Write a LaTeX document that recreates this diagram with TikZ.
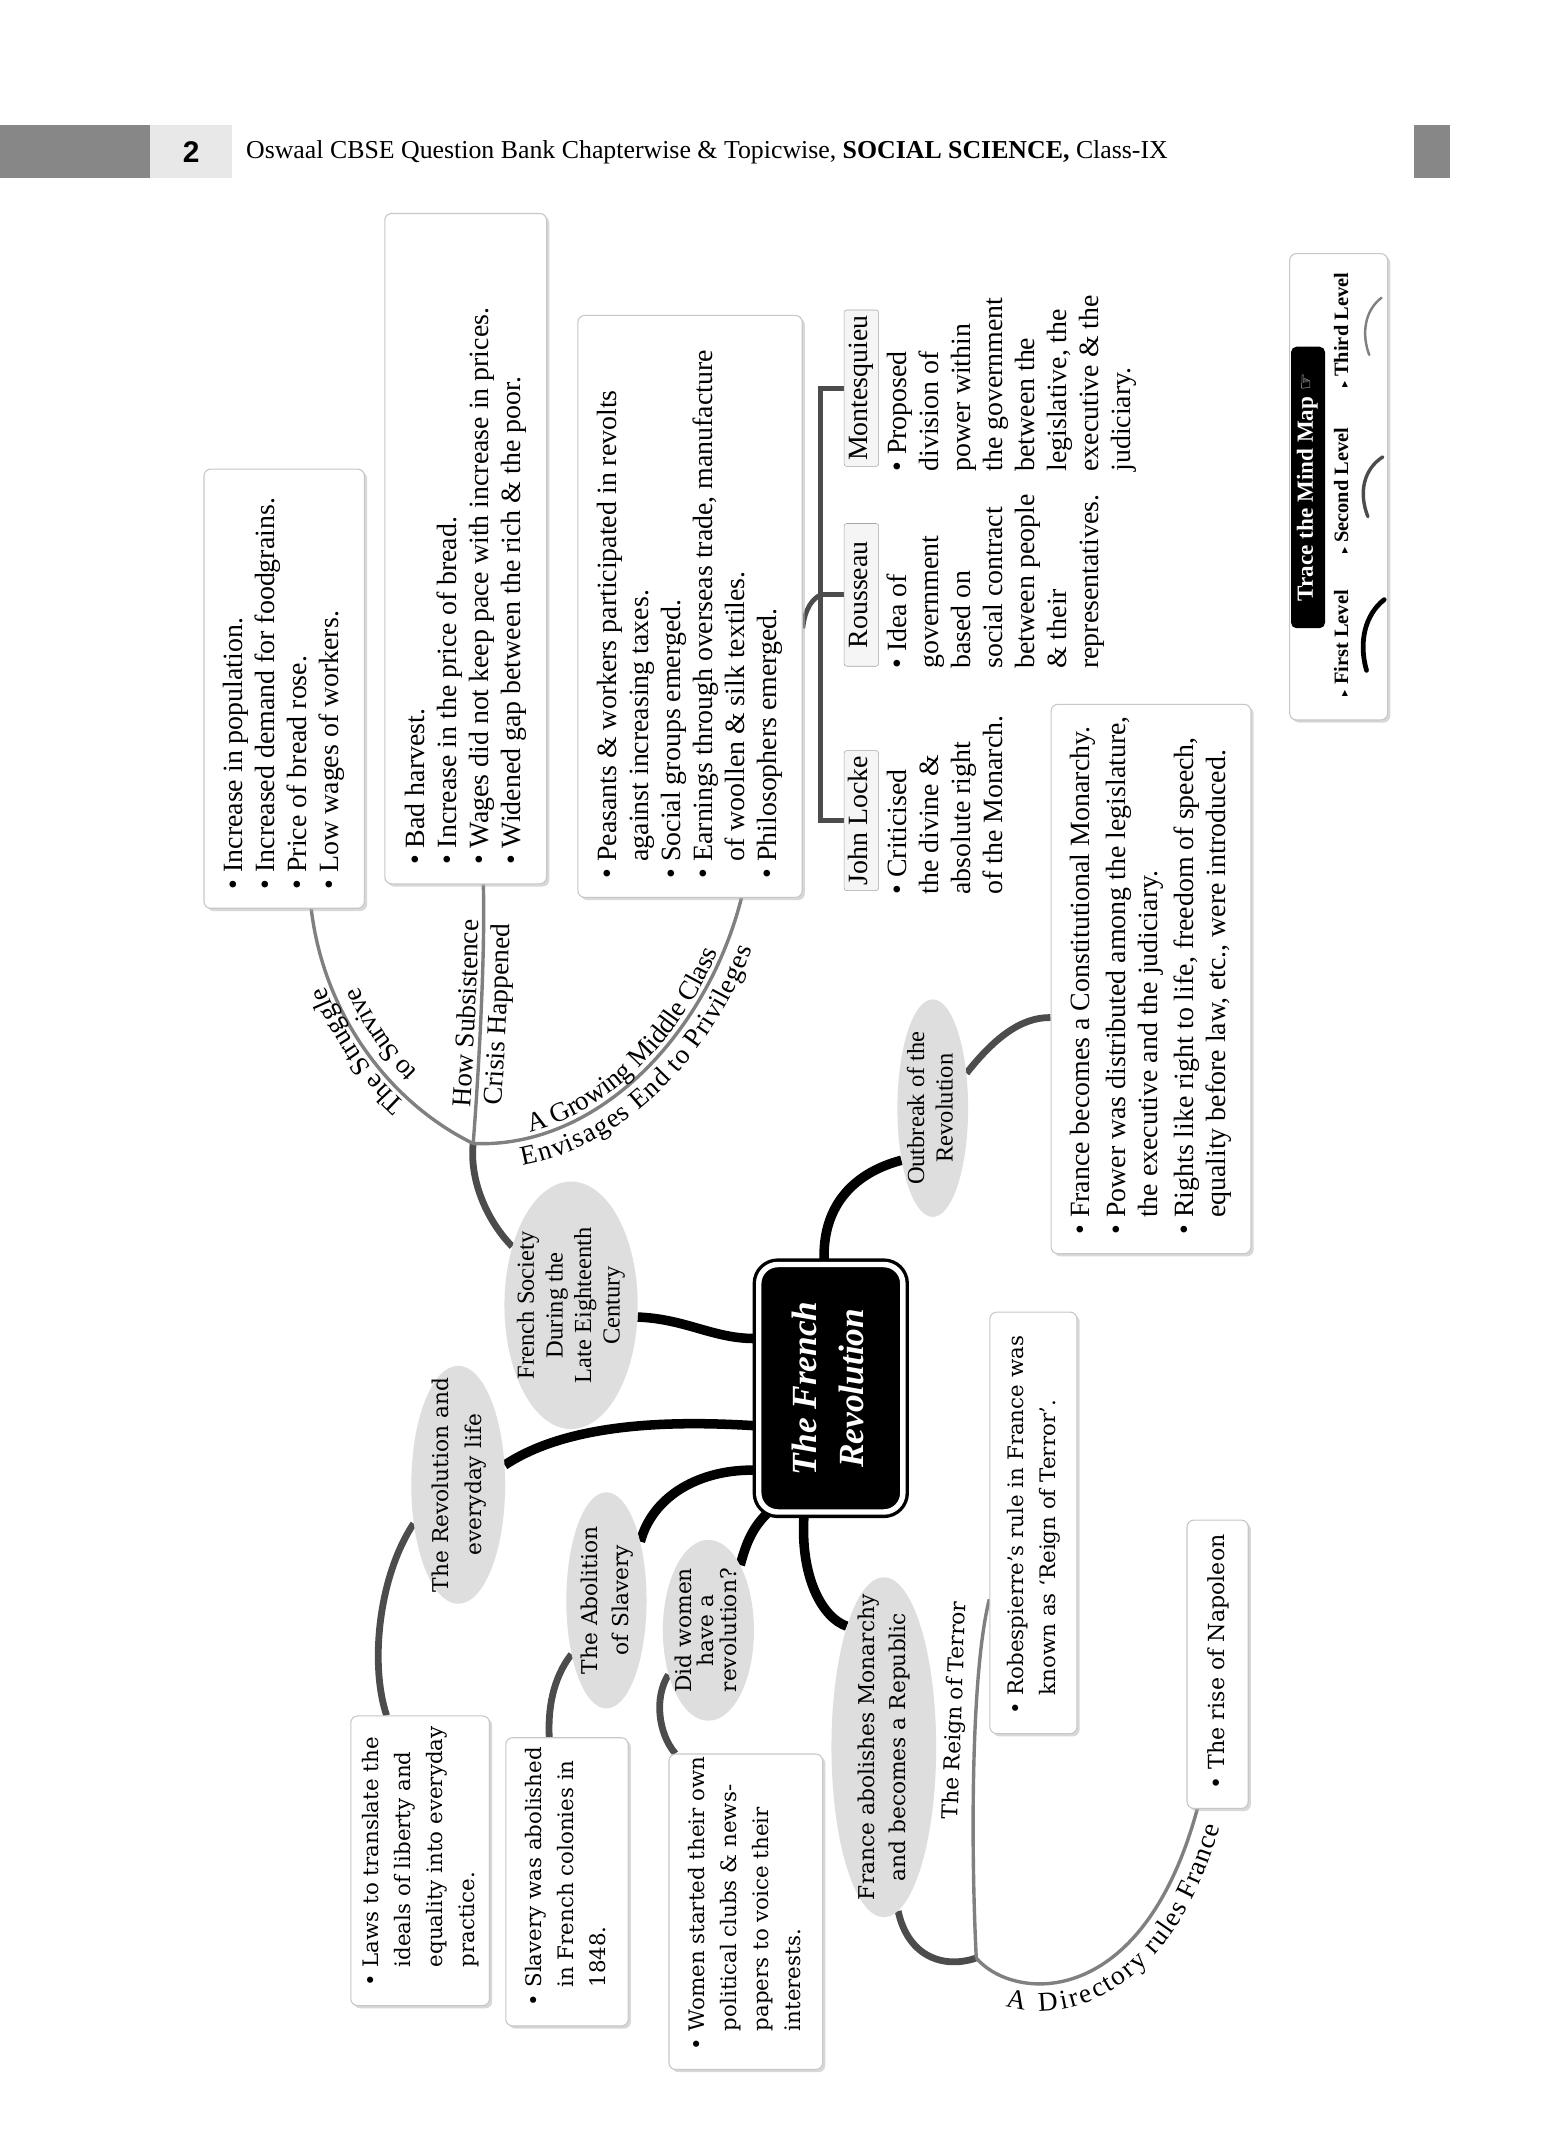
\documentclass[tikz,border=0pt]{standalone}
\usepackage{fontspec}
\setmainfont{Liberation Serif}
\setsansfont{Liberation Sans}
\newfontfamily\wideserif[Ligatures=TeX]{DejaVu Serif}
\newfontfamily\symbfont{DejaVu Sans}
\usetikzlibrary{shapes.geometric,shadows,decorations.text,backgrounds}

\newcommand{\bodyfont}{\fontsize{20.5}{23.5}\selectfont}
\newcommand{\widebody}{\wideserif\fontsize{15.7}{23.5}\selectfont}
\newcommand{\lblfont}{\fontsize{20}{24}\selectfont}
\newcommand{\sidetext}[2]{\rotatebox{90}{\makebox[#1][l]{\hspace{14pt}\begin{tabular}{@{}l@{\ }l@{}}#2\end{tabular}}}}
\newcommand{\sidecol}[1]{\rotatebox{90}{\begin{tabular}{@{}l@{}}#1\end{tabular}}}
\newcommand{\sidemid}[1]{\rotatebox{90}{\begin{tabular}{@{}c@{}}#1\end{tabular}}}
\newcommand{\tri}{{\symbfont\fontsize{9}{9}\selectfont ▸}}

\begin{document}
\begin{tikzpicture}[x=1pt,y=-1pt,line cap=round,line join=round,
  detail/.style={draw=black!22, fill=white, rounded corners=5pt, line width=0.8pt, inner sep=0pt,
    font=\bodyfont, drop shadow={shadow xshift=2pt,shadow yshift=-2pt,fill=black!30}},
  bubble/.style={ellipse, fill=black!13, inner sep=0pt},
  namebox/.style={draw=black!35, fill=black!4, rounded corners=2pt, inner sep=1pt, minimum width=23, font=\bodyfont},
  lvlone/.style={line width=7pt, black},
  lvltwo/.style={line width=5pt, black!70},
  lvlthree/.style={line width=2.5pt, black!50}]
  \useasboundingbox (0,0) rectangle (1144,1568);

  % header
  \node[fill=black!47, minimum width=110, minimum height=39, inner sep=0, anchor=north west] (hdrbar) at (0,92) {};
  \node[fill=black!9, minimum width=60, minimum height=39, inner sep=0, anchor=west,
        font=\sffamily\bfseries\fontsize{22}{22}\selectfont] (pagenum) at (hdrbar.east) {2};
  \node[anchor=west, inner sep=0, font=\fontsize{19}{22}\selectfont] (hdrtext) at ([xshift=10]pagenum.east)
    {Oswaal CBSE Question Bank Chapterwise \& Topicwise, \textbf{SOCIAL SCIENCE,} Class-IX};
  \node[fill=black!47, minimum width=26, minimum height=39, inner sep=0, anchor=north west] (hdrend) at (1040,92) {};

  % centre
  \node[fill=black, draw=black, double=white, double distance=4pt, line width=2.5pt, rounded corners=14pt,
        minimum width=106, minimum height=182, inner sep=0, text=white,
        font=\fontsize{26}{34}\selectfont\bfseries\itshape] (rev) at (611,1021) {\sidemid{The French\\Revolution}};

  % first level topics
  \node[bubble, minimum width=98, minimum height=182,
        label={[font=\fontsize{18}{21}\selectfont]center:\sidemid{French Society\\During the\\Late Eighteenth\\Century}}] (fs) at (420,960) {};
  \node[bubble, minimum width=52, minimum height=160,
        label={[font=\fontsize{18}{21}\selectfont]center:\sidemid{Outbreak of the\\Revolution}}] (ob) at (686,815) {};
  \node[bubble, minimum width=69, minimum height=175,
        label={[font=\wideserif\fontsize{16}{24}\selectfont]center:\sidemid{The Revolution and\\everyday life}}] (ev) at (337,1092) {};
  \node[bubble, minimum width=59, minimum height=159,
        label={[font=\wideserif\fontsize{16}{23}\selectfont]center:\sidemid{The Abolition\\of Slavery}}] (ab) at (446,1177) {};
  \node[bubble, minimum width=67, minimum height=133,
        label={[font=\wideserif\fontsize{16}{14}\selectfont]center:\sidemid{Did women\\have a\\revolution?}}] (wm) at (521,1199) {};
  \node[bubble, minimum width=77, minimum height=250,
        label={[font=\wideserif\fontsize{16}{23}\selectfont]center:\sidemid{France abolishes Monarchy\\and becomes a Republic}}] (rp) at (650,1285) {};

  % detail boxes
  \node[detail, minimum width=118, minimum height=323] (survive) at (209,506.5) {\sidetext{323pt}{%
    \textbullet & Increase in population.\\
    \textbullet & Increased demand for foodgrains.\\
    \textbullet & Price of bread rose.\\
    \textbullet & Low wages of workers.}};
  \node[detail, minimum width=119, minimum height=493] (subsist) at (342.5,403.5) {\sidetext{493pt}{%
    \textbullet & Bad harvest.\\
    \textbullet & Increase in the price of bread.\\
    \textbullet & Wages did not keep pace with increase in prices.\\
    \textbullet & Widened gap between the rich \& the poor.}};
  \node[detail, minimum width=165, minimum height=428] (middle) at (507.5,446) {\sidetext{428pt}{%
    \textbullet & Peasants \& workers participated in revolts\\
                & against increasing taxes.\\
    \textbullet & Social groups emerged.\\
    \textbullet & Earnings through overseas trade, manufacture\\
                & of woollen \& silk textiles.\\
    \textbullet & Philosophers emerged.}};
  \node[detail, minimum width=147, minimum height=404] (outcome) at (846.5,720) {\sidetext{404pt}{%
    \textbullet & France becomes a Constitutional Monarchy.\\[3pt]
    \textbullet & Power was distributed among the legislature,\\
                & the executive and the judiciary.\\[3pt]
    \textbullet & Rights like right to life, freedom of speech,\\
                & equality before law, etc., were introduced.}};
  \node[detail, font=\widebody, minimum width=102, minimum height=213] (everyday) at (309,1368.5) {\sidetext{213pt}{%
    \textbullet & Laws to translate the\\
                & ideals of liberty and\\
                & equality into everyday\\
                & practice.}};
  \node[detail, font=\widebody, minimum width=90, minimum height=212] (slavery) at (417,1384) {\sidetext{212pt}{%
    \textbullet & Slavery was abolished\\
                & in French colonies in\\
                & 1848.}};
  \node[detail, font=\widebody, minimum width=113, minimum height=232] (women) at (548.5,1406) {\sidetext{232pt}{%
    \textbullet & Women started their own\\
                & political clubs \& news-\\
                & papers to voice their\\
                & interests.}};
  \node[detail, font=\widebody, minimum width=64, minimum height=310] (terror) at (760,1120) {\sidetext{310pt}{%
    \textbullet & Robespierre’s rule in France was\\
                & known as ‘Reign of Terror’.}};
  \node[detail, font=\wideserif\fontsize{16.3}{23.5}\selectfont, minimum width=45, minimum height=212] (napoleon) at (895.5,1224) {\sidetext{212pt}{%
    \textbullet & The rise of Napoleon}};

  % philosophers
  \node[namebox, minimum height=103] (locke) at (633.5,603.5) {\sidemid{John Locke}};
  \node[namebox, minimum height=105] (rous) at (633.5,437.5) {\sidemid{Rousseau}};
  \node[namebox, minimum height=115] (mont) at (633.5,285.5) {\sidemid{Montesquieu}};
  \node[anchor=south west, inner sep=0, font=\bodyfont] (lockeinfo) at (650,658)
    {\sidecol{\textbullet\ Criticised\\the divine \&\\absolute right\\of the Monarch.}};
  \node[anchor=south west, inner sep=0, font=\bodyfont] (rousinfo) at (650,492)
    {\sidecol{\textbullet\ Idea of\\government\\based on\\social contract\\between people\\\& their\\representatives.}};
  \node[anchor=south west, inner sep=0, font=\bodyfont] (montinfo) at (650,347)
    {\sidecol{\textbullet\ Proposed\\division of\\power within\\the government\\between the\\legislative, the\\executive \& the\\judiciary.}};
  \coordinate (brk) at ([xshift=-17]rous.west);

  % legend
  \node[detail, minimum width=72, minimum height=343] (legend) at (984.5,358) {};
  \node[fill=black, rounded corners=4pt, minimum width=25, minimum height=207, inner sep=0, text=white,
        font=\fontsize{17}{18}\selectfont\bfseries] (trace) at (962,358.5) {\sidemid{Trace the Mind Map {\symbfont\fontsize{14}{14}\selectfont ☞}}};
  \node[inner sep=0, font=\fontsize{15}{17}\selectfont\bfseries] (firstlvl) at (988,473) {\sidemid{\tri\ First Level}};
  \node[inner sep=0, font=\fontsize{15}{17}\selectfont\bfseries] (secondlvl) at (988,361) {\sidemid{\tri\ Second Level}};
  \node[inner sep=0, font=\fontsize{15}{17}\selectfont\bfseries] (thirdlvl) at (988,243) {\sidemid{\tri\ Third Level}};
  \draw[black, line width=3.5pt] (1018,441) .. controls (1004,452) and (999,472) .. (1005,493);
  \draw[black!70, line width=2.5pt] (1017,336) .. controls (1003,345) and (999,362) .. (1006,380);
  \draw[black!50, line width=1.8pt] (1016,219) .. controls (1004,228) and (1001,245) .. (1007,261);

  \coordinate (J1) at (348,841);
  \coordinate (J2) at (718,1440);

  \begin{pgfonlayer}{background}
    \fill[white] (0,0) rectangle (1144,1568);
    % first level
    \draw[lvlone] (rev.146) .. controls (525,985) and (505,970) .. (fs.-10);
    \draw[lvlone] (rev.207) .. controls (500,1045) and (420,1045) .. (ev.23);
    \draw[lvlone] (rev.228) .. controls (515,1080) and (480,1100) .. (ab.60);
    \draw[lvlone] (rev.243) .. controls (552,1125) and (548,1138) .. (wm.64);
    \draw[lvlone] (rev.258) .. controls (588,1160) and (605,1190) .. (rp.107);
    \draw[lvlone] (rev.93) .. controls (604,885) and (630,862) .. (ob.239);
    % second level
    \draw[lvltwo] (fs.135) .. controls (360,900) and (345,870) .. (J1);
    \draw[lvltwo] (ob.46) .. controls (730,765) and (750,748) .. (outcome.201);
    \draw[lvltwo] (ev.221) .. controls (278,1160) and (272,1225) .. (everyday.103);
    \draw[lvltwo] (ab.237) .. controls (406,1235) and (403,1258) .. (slavery.97);
    \draw[lvltwo] (wm.228) .. controls (481,1248) and (484,1275) .. (women.114);
    \draw[lvltwo] (rp.275) .. controls (668,1440) and (695,1448) .. (J2);
    % third level
    \draw[lvlthree] (J1) .. controls (285,810) and (238,745) .. (survive.-83);
    \draw[lvlthree] (J1) .. controls (352,790) and (357,700) .. (subsist.-87);
    \draw[lvlthree] (J1) .. controls (440,845) and (520,760) .. (middle.-80);
    \draw[lvlthree] (J2) .. controls (714,1360) and (714,1230) .. (terror.240);
    \draw[lvlthree] (J2) .. controls (745,1472) and (840,1480) .. (napoleon.262);
    \draw[line width=3.5pt, black!70] (middle.-11) .. controls (592,447) and (598,440) .. (brk);
    \draw[line width=3.5pt, black!70, line cap=butt] (mont.west) -- ++(-17,0) |- (locke.west);
    \draw[line width=3.5pt, black!70, line cap=butt] (rous.west) -- (brk);
  \end{pgfonlayer}

  % labels on the branches
  \path[decorate, decoration={text along path, text align=center, raise=4pt, text={|\lblfont|The Struggle}}]
    (J1) .. controls (285,810) and (238,745) .. (survive.-83);
  \path[decorate, decoration={text along path, text align=center, raise=-19pt, text={|\lblfont|to Survive}}]
    (J1) .. controls (285,810) and (238,745) .. (survive.-83);
  \path[decorate, decoration={text along path, text align=center, raise=4pt, text={|\lblfont|How Subsistence}}]
    (J1) .. controls (352,790) and (357,700) .. (subsist.-87);
  \path[decorate, decoration={text along path, text align=center, raise=-19pt, text={|\lblfont|Crisis Happened}}]
    (J1) .. controls (352,790) and (357,700) .. (subsist.-87);
  \path[decorate, decoration={text along path, text align=center, raise=4pt, text={|\lblfont|A Growing Middle Class}}]
    (J1) .. controls (440,845) and (520,760) .. (middle.-80);
  \path[decorate, decoration={text along path, text align=center, raise=-19pt, text={|\lblfont|Envisages End to Privileges}}]
    (J1) .. controls (440,845) and (520,760) .. (middle.-80);
  \path[decorate, decoration={text along path, text align={right, right indent=8pt}, raise=-20pt, text={|\lblfont|A Directory rules France}}]
    (J2) .. controls (745,1472) and (840,1480) .. (napoleon.262);
  \node[rotate=88, inner sep=0, font=\wideserif\fontsize{16}{18}\selectfont] (reignlbl) at (703,1258) {The Reign of Terror};
\end{tikzpicture}
\end{document}
